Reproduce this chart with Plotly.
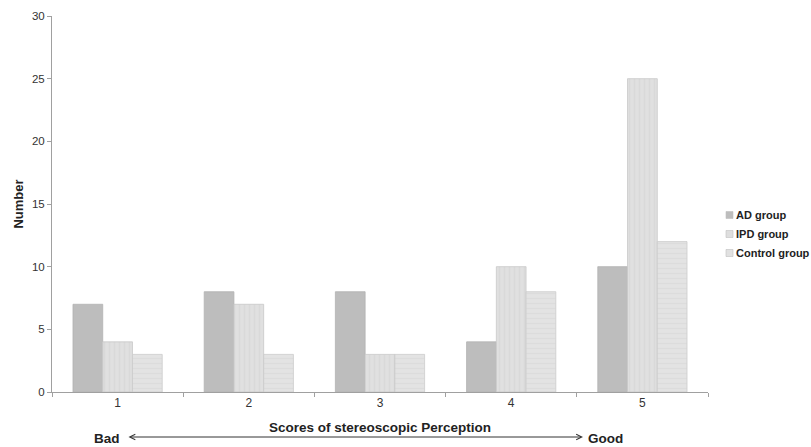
import plotly.graph_objects as go

categories = ["1", "2", "3", "4", "5"]
ad_group = [7, 8, 8, 4, 10]
ipd_group = [4, 7, 3, 10, 25]
control_group = [3, 3, 3, 8, 12]
y_ticks = [0, 5, 10, 15, 20, 25, 30]
series_names = ["AD group", "IPD group", "Control group"]
series_colors = ["#bdbdbd", "#dedede", "#e1e1e1"]

font_family = "Liberation Sans, Arial, sans-serif"

# plot area target in page px: x 52..708, y 16..392
W, H = 811, 447
L, T = 52, 16
PW, PH = 656, 376


def px(X):
    return (X - 52) / PW


def py(Y):
    return (392 - Y) / PH


fig = go.Figure()
fig.add_trace(go.Bar(
    x=categories, y=ad_group, name=series_names[0],
    marker=dict(color=series_colors[0], line=dict(color="#b3b3b3", width=0.8)),
))
fig.add_trace(go.Bar(
    x=categories, y=ipd_group, name=series_names[1],
    marker=dict(color=series_colors[1], line=dict(color="#c8c8c8", width=0.8),
                pattern=dict(shape="|", fgcolor="#d2d2d2", bgcolor="#e0e0e0",
                             size=5, solidity=0.3)),
))
fig.add_trace(go.Bar(
    x=categories, y=control_group, name=series_names[2],
    marker=dict(color=series_colors[2], line=dict(color="#cccccc", width=0.8),
                pattern=dict(shape="-", fgcolor="#d5d5d5", bgcolor="#e3e3e3",
                             size=5, solidity=0.3)),
))

shapes = []
annotations = []
legend_y = [215, 234, 253]
for name, color, yy in zip(series_names, series_colors, legend_y):
    shapes.append(dict(type="rect", xref="paper", yref="paper",
                       x0=px(726), x1=px(733), y0=py(yy + 3.5), y1=py(yy - 3.5),
                       fillcolor=color, line=dict(color="#c0c0c0", width=0.6)))
    annotations.append(dict(text=name, xref="paper", yref="paper",
                            x=px(734), y=py(yy), xanchor="left", yanchor="middle",
                            showarrow=False,
                            font=dict(size=11, color="#222222", weight="bold")))

annotations += [
    dict(text="Scores of stereoscopic Perception", xref="paper", yref="paper",
         x=px(380), y=py(427), xanchor="center", yanchor="middle", showarrow=False,
         font=dict(size=13.5, color="#222222", weight="bold")),
    dict(text="Bad", xref="paper", yref="paper", x=px(92), y=py(438),
         xanchor="left", yanchor="middle", showarrow=False,
         font=dict(size=13.5, color="#222222", weight="bold")),
    dict(text="Good", xref="paper", yref="paper", x=px(586), y=py(438),
         xanchor="left", yanchor="middle", showarrow=False,
         font=dict(size=13.5, color="#222222", weight="bold")),
    dict(text="", xref="paper", yref="paper", x=px(583), y=py(437),
         ax=-(583 - 127), ay=0, showarrow=True, arrowside="end+start",
         arrowhead=5, startarrowhead=5, arrowsize=1.1, startarrowsize=1.1,
         arrowwidth=1, arrowcolor="#333333", standoff=0, startstandoff=0),
]

fig.update_layout(
    width=W, height=H,
    margin=dict(l=L, r=W - L - PW, t=T, b=H - T - PH, autoexpand=False),
    paper_bgcolor="white", plot_bgcolor="white",
    barmode="group", bargap=0.32, bargroupgap=0,
    font=dict(family=font_family, size=11.5, color="#333333"),
    showlegend=False,
    xaxis=dict(
        type="category", showline=True, linecolor="#a0a0a0", linewidth=1,
        ticks="outside", tickson="boundaries", ticklen=4, tickcolor="#a0a0a0",
        showgrid=False, zeroline=False,
        tickfont=dict(size=12, color="#333333"),
    ),
    yaxis=dict(
        range=[0, 30], tickvals=y_ticks, showline=True, linecolor="#a0a0a0",
        linewidth=1, ticks="outside", ticklen=4, tickcolor="#a0a0a0",
        showgrid=False, zeroline=False,
        tickfont=dict(size=11.5, color="#333333"),
        title=dict(text="Number", font=dict(size=13, color="#222222", weight="bold"),
                   standoff=5),
    ),
    shapes=shapes,
    annotations=annotations,
)

fig.write_html(
    "out.html",
    config={"displayModeBar": False},
    post_script="document.body.style.margin='0';document.body.style.overflow='hidden';",
)
